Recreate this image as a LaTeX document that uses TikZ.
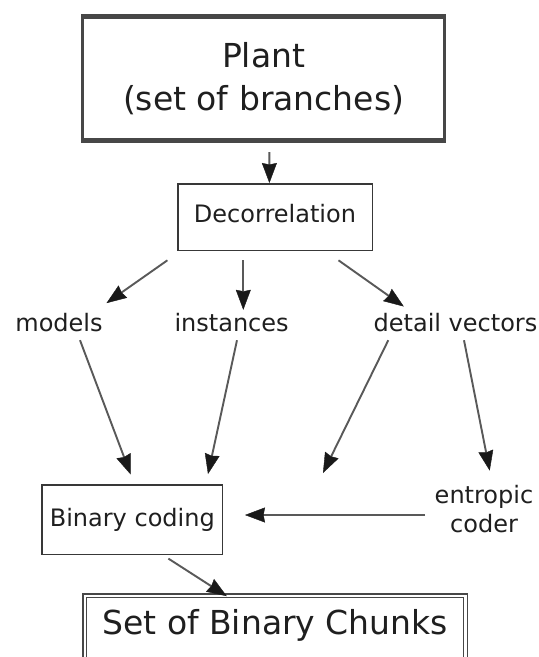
\documentclass[tikz,border=0pt]{standalone}
\usepackage{fontspec}
\setmainfont{DejaVu Sans}
\usetikzlibrary{arrows.meta}
\begin{document}
\begin{tikzpicture}[x=1pt,y=-1pt,
  arr/.style={draw=black!65, line width=1.9pt,
    -{Stealth[length=20pt,width=15pt,inset=1.5pt,line width=0.4pt,color=black!90,fill=black!90]}},
  box/.style={draw=black!78, line width=1.5pt, inner sep=0pt, text=black!88,
    font=\fontsize{24}{29}\selectfont},
  lab/.style={inner sep=0pt, text=black!88, font=\fontsize{24}{29}\selectfont,
    text height=18.2pt, text depth=0pt}]
\useasboundingbox (0,0) rectangle (539,657);
\fill[white] (0,0) rectangle (539,657);
\clip (0,0) rectangle (539,657);

% nodes
\node[draw=black!72, line width=2.5pt, minimum width=361.8pt, minimum height=125.7pt,
  inner sep=0pt, text=black!88, font=\fontsize{33}{43}\selectfont, align=center]
  (plant) at (263.6,78.5) {Plant\\(set of branches)};
\draw[draw=black!72, line width=4.5pt] ([shift={(0,2.25)}]plant.north west) -- ([shift={(0,2.25)}]plant.north east);
\draw[draw=black!72, line width=4.5pt] ([shift={(0,-2.25)}]plant.south west) -- ([shift={(0,-2.25)}]plant.south east);

\node[box, minimum width=194.5pt, minimum height=66.5pt, text height=18.2pt, text depth=7.6pt]
  (decor) at (275,217) {Decorrelation};

\node[lab] (models) at (59,322.3) {models};
\node[lab] (inst) at (231.6,322.3) {instances};
\node[lab] (dv) at (455.5,322.3) {detail vectors};

\node[box, minimum width=180.7pt, minimum height=69.5pt, text height=18.2pt, text depth=5.2pt]
  (bin) at (132.3,519.5) {Binary coding};

\node[inner sep=0pt, text=black!88, font=\fontsize{24}{29}\selectfont, align=center]
  (ent) at (484,509) {entropic\\coder};

\node[draw=black!72, line width=1.3pt, double, double distance=2.4pt,
  minimum width=380.7pt, inner xsep=0pt, inner ysep=13.2pt,
  text height=25pt, text depth=40pt, text=black!88,
  font=\fontsize{33}{40}\selectfont, anchor=base]
  (set) at (275.2,634) {Set of Binary Chunks};

\coordinate (dvend) at (323,473);

% connectors
\draw[arr] ([shift={(5.8,9.4)}]plant.south) -- ([shift={(-5.6,0)}]decor.north);
\draw[arr] ([shift={(-107.6,9.3)}]decor.south) -- ([shift={(47.5,-9.9)}]models.north);
\draw[arr] ([shift={(-31.7,9.3)}]decor.south) -- ([shift={(11.7,-3.2)}]inst.north);
\draw[arr] ([shift={(63.5,9.3)}]decor.south) -- ([shift={(-51.7,-6.5)}]dv.north);
\draw[arr] ([shift={(21,8.6)}]models.south) -- ([shift={(-1.7,-9.6)}]bin.north);
\draw[arr] ([shift={(5.4,8.6)}]inst.south) -- ([shift={(75.7,-10)}]bin.north);
\draw[arr] ([shift={(-67.2,8.6)}]dv.south) -- (dvend);
\draw[arr] ([shift={(8.5,8.6)}]dv.south) -- ([shift={(5.7,-14.4)}]ent.north);
\draw[arr] ([shift={(-9.5,6)}]ent.west) -- ([shift={(21.6,-4.5)}]bin.east);
\draw[arr] ([shift={(36.1,3.6)}]bin.south) -- ([shift={(-48.4,1)}]set.north);
\end{tikzpicture}
\end{document}
